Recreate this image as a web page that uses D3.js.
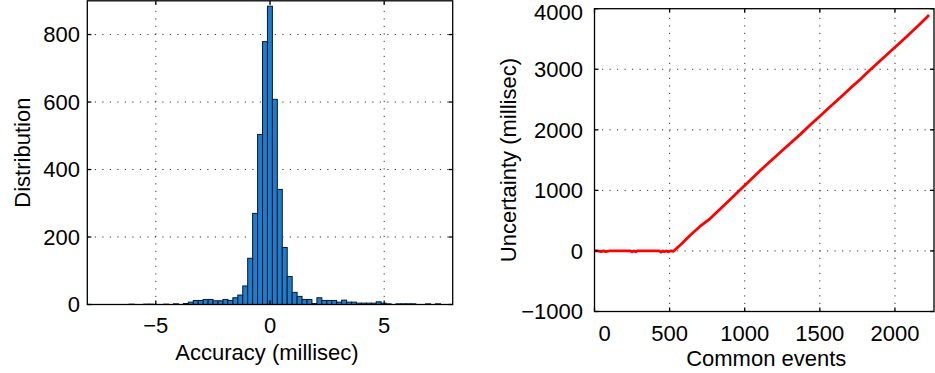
<!DOCTYPE html>
<html>
<head>
<meta charset="utf-8">
<script src="https://cdn.jsdelivr.net/npm/d3@7"></script>
<style>
  body { margin: 0; background: #fff; }
  text { font-family: "Liberation Sans", Arial, Helvetica, sans-serif; fill: #000; }
</style>
</head>
<body>
<div id="chart"></div>
<script>
// histogram of accuracy (millisec): first bin edge, bin width, counts per bin
const accFirstEdge = -6.39;
const accBinWidth = 0.2165;
const accCounts = [0, 1, 0, 0, 1, 1, 0, 0, 1, 0, 2, 0, 3, 7, 12, 12, 15, 15, 11, 11,
  15, 12, 20, 28, 55, 137, 270, 504, 779, 884, 608, 341, 169, 83, 36, 24, 15, 15, 3, 20,
  12, 12, 12, 7, 13, 7, 7, 4, 4, 4, 4, 8, 4, 2, 0, 2, 2, 2, 2, 0, 0, 2, 0, 2, 0];
const accTicksX = [-5, 0, 5];
const accTicksY = [0, 200, 400, 600, 800];

// uncertainty vs common events
const events = [0, 20, 45, 60, 75, 100, 240, 250, 262, 275, 285, 430, 442, 455, 465, 478, 490, 505, 526,
  580, 637, 700, 770, 840, 903, 970, 1036, 1100, 1169, 1235, 1302, 1370, 1435, 1500, 1568,
  1635, 1701, 1770, 1834, 1900, 1967, 2030, 2089, 2160, 2227];
const uncertainty = [3, 0, -12, 0, -12, 2, 0, -15, 0, -15, 0, 0, -20, 0, -12, 0, -15, 0, -5,
  120, 259, 400, 535, 700, 849, 1010, 1169, 1320, 1477, 1625, 1775, 1925, 2078, 2225, 2380,
  2530, 2684, 2835, 2987, 3135, 3289, 3430, 3565, 3730, 3896];
const evTicksX = [0, 500, 1000, 1500, 2000];
const evTicksY = [-1000, 0, 1000, 2000, 3000, 4000];

const width = 935, height = 373;
const fontSize = 22;
const tickLen = 4;

const svg = d3.select("#chart").append("svg")
  .attr("width", width)
  .attr("height", height);

const fmt = v => v < 0 ? "\u2212" + Math.abs(v) : String(v);

// dotted grid, drawn under the data
function drawGrid(g, x, y, xTicks, yTicks) {
  const [x0, x1] = x.range();
  const [y0, y1] = y.range(); // y0 bottom, y1 top
  const grid = g.append("g")
    .attr("stroke", "#333").attr("stroke-width", 1).attr("stroke-dasharray", "1.2,6.3");
  xTicks.filter(t => Math.abs(x(t) - x0) > 2 && Math.abs(x(t) - x1) > 2).forEach(t => {
    grid.append("line").attr("x1", x(t)).attr("x2", x(t)).attr("y1", y0).attr("y2", y1);
  });
  yTicks.filter(t => Math.abs(y(t) - y0) > 2 && Math.abs(y(t) - y1) > 2).forEach(t => {
    grid.append("line").attr("x1", x0).attr("x2", x1).attr("y1", y(t)).attr("y2", y(t));
  });
}

// box, inside ticks on all four sides, tick labels and titles
function drawFrame(g, x, y, xTicks, yTicks, opts) {
  const [x0, x1] = x.range();
  const [y0, y1] = y.range();
  const frame = g.append("g").attr("stroke", "#000").attr("stroke-width", 1.3).attr("fill", "none");
  frame.append("rect").attr("x", x0).attr("y", y1).attr("width", x1 - x0).attr("height", y0 - y1);
  xTicks.forEach(t => {
    frame.append("line").attr("x1", x(t)).attr("x2", x(t)).attr("y1", y0).attr("y2", y0 - tickLen);
    frame.append("line").attr("x1", x(t)).attr("x2", x(t)).attr("y1", y1).attr("y2", y1 + tickLen);
  });
  yTicks.forEach(t => {
    frame.append("line").attr("x1", x0).attr("x2", x0 + tickLen).attr("y1", y(t)).attr("y2", y(t));
    frame.append("line").attr("x1", x1).attr("x2", x1 - tickLen).attr("y1", y(t)).attr("y2", y(t));
  });

  g.append("g").selectAll("text").data(xTicks).join("text")
    .attr("x", d => x(d) + (opts.xLabelShift ? opts.xLabelShift(d) : 0))
    .attr("y", opts.xLabelY)
    .attr("text-anchor", "middle")
    .attr("font-size", fontSize)
    .text(fmt);
  // top label is nudged down so it stays inside the page
  g.append("g").selectAll("text").data(yTicks).join("text")
    .attr("x", opts.yLabelX)
    .attr("y", d => Math.max(y(d), 12))
    .attr("dy", "0.36em")
    .attr("text-anchor", "end")
    .attr("font-size", fontSize)
    .text(fmt);

  g.append("text")
    .attr("x", (x0 + x1) / 2 + (opts.xTitleShift || 0))
    .attr("y", opts.xTitleY)
    .attr("text-anchor", "middle")
    .attr("font-size", fontSize)
    .text(opts.xTitle);
  g.append("text")
    .attr("transform", `translate(${opts.yTitleX},${(y0 + y1) / 2}) rotate(-90)`)
    .attr("text-anchor", "middle")
    .attr("font-size", fontSize)
    .text(opts.yTitle);
}

// ---- left: histogram ----
const xL = d3.scaleLinear().domain([-8, 8]).range([87.3, 452.7]);
const yL = d3.scaleLinear().domain([0, 900]).range([304.5, 0.8]);
const gL = svg.append("g");
drawGrid(gL, xL, yL, accTicksX, accTicksY);

const bins = accCounts.map((c, i) => ({
  x0: accFirstEdge + i * accBinWidth,
  x1: accFirstEdge + (i + 1) * accBinWidth,
  count: c
})).filter(b => b.count > 0);

gL.append("g").selectAll("rect").data(bins).join("rect")
  .attr("x", d => xL(d.x0))
  .attr("y", d => yL(d.count))
  .attr("width", d => xL(d.x1) - xL(d.x0))
  .attr("height", d => yL(0) - yL(d.count))
  .attr("fill", "#1f7bcb")
  .attr("stroke", "#0a1a2a")
  .attr("stroke-width", 1);

drawFrame(gL, xL, yL, accTicksX, accTicksY, {
  xLabelY: 333, yLabelX: 80,
  xTitle: "Accuracy (millisec)", xTitleY: 360, xTitleShift: -3,
  yTitle: "Distribution", yTitleX: 30
});

// ---- right: uncertainty line ----
const xR = d3.scaleLinear().domain([0, 2260]).range([594.5, 934]);
const yR = d3.scaleLinear().domain([-1000, 4000]).range([311.5, 8.7]);
const gR = svg.append("g");
drawGrid(gR, xR, yR, evTicksX, evTicksY);

const line = d3.line()
  .x((d, i) => xR(events[i]))
  .y(d => yR(d));

gR.append("path")
  .datum(uncertainty)
  .attr("d", line)
  .attr("fill", "none")
  .attr("stroke", "#ff0000")
  .attr("stroke-width", 2.8)
  .attr("stroke-linejoin", "round");

drawFrame(gR, xR, yR, evTicksX, evTicksY, {
  xLabelY: 341, yLabelX: 583,
  xLabelShift: d => d === 0 ? 10 : 0,
  xTitle: "Common events", xTitleY: 366, xTitleShift: 2,
  yTitle: "Uncertainty (millisec)", yTitleX: 516
});
</script>
</body>
</html>
